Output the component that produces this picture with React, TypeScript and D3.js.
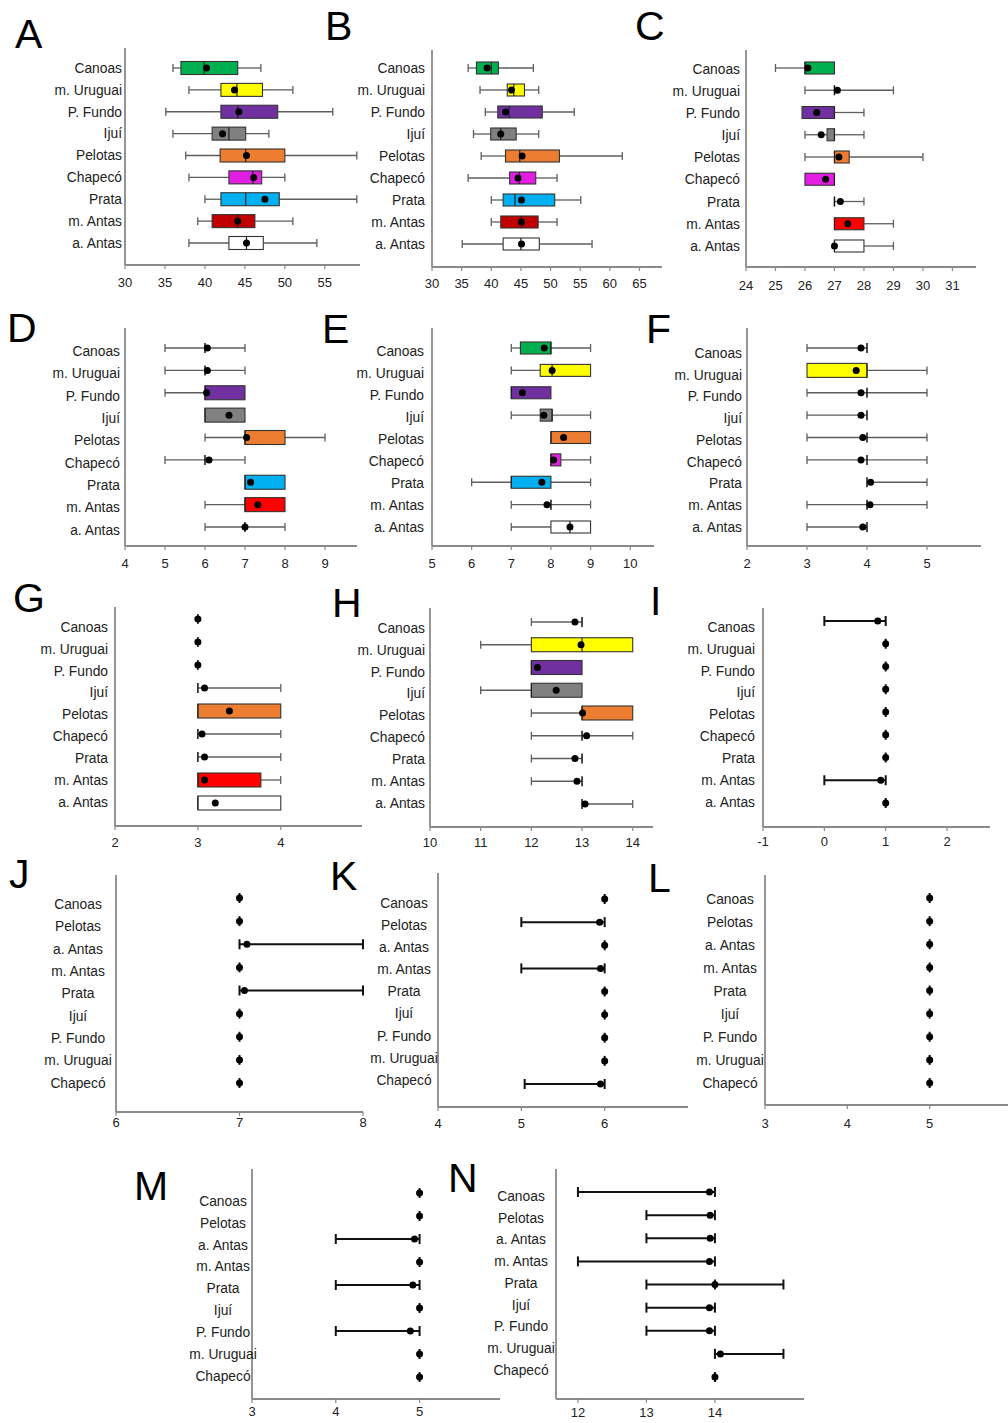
import React from 'react';
import * as d3 from 'd3';

// site order used in panels A-I and J-N
const sitesAI = ['Canoas', 'm. Uruguai', 'P. Fundo', 'Ijuí', 'Pelotas', 'Chapecó', 'Prata', 'm. Antas', 'a. Antas'];
const sitesJN = ['Canoas', 'Pelotas', 'a. Antas', 'm. Antas', 'Prata', 'Ijuí', 'P. Fundo', 'm. Uruguai', 'Chapecó'];

// [min, q1, median, q3, max, mean] per site
const statsA = [
  [36, 37, 39.9, 44.1, 47, 40.2], [38, 42, 44, 47.2, 51, 43.7], [35.1, 42, 44.1, 49.1, 56, 44.25],
  [36, 40.9, 43, 45.1, 48, 42.2], [37.6, 41.9, 45.1, 50, 59, 45.2], [38, 43, 46, 47.1, 50, 46.1],
  [40, 42, 45.1, 49.3, 59, 47.5], [39.1, 40.9, 44.1, 46.25, 51, 44.1], [38, 43, 45.2, 47.3, 54, 45.2],
];
const statsB = [
  [36.1, 37.5, 40, 41.2, 47.1, 39.3], [38.1, 42.7, 43.8, 45.6, 48, 43.4], [39, 41.1, 43, 48.6, 54, 42.4],
  [37, 39.9, 41.6, 44.2, 48, 41.6], [38.3, 42.4, 44.8, 51.5, 62.1, 45.2], [36.1, 43.1, 44.7, 47.5, 51.1, 44.5],
  [40, 42, 44, 50.7, 55.1, 45.1], [40, 41.6, 45.1, 47.9, 51.1, 45.1], [35.1, 42, 45, 48.1, 57, 45.1],
];
const statsC = [
  [25, 26, 26, 27, 27, 26.1], [26, 27, 27, 27, 29, 27.1], [25.9, 25.9, 27, 27, 28, 26.4],
  [26, 26.75, 27, 27, 28, 26.55], [26, 27, 27, 27.5, 30, 27.15], [26, 26, 27, 27, 27, 26.7],
  [27, 27, 27, 27, 28, 27.2], [27, 27, 27, 28, 29, 27.45], [27, 27, 27, 28, 29, 27.0],
];
const statsD = [
  [5, 6, 6, 6, 7, 6.06], [5, 6, 6, 6, 7, 6.06], [5, 6, 6, 7, 7, 6.04],
  [6, 6, 6, 7, 7, 6.6], [6, 7, 7, 8, 9, 7.04], [5, 6, 6, 6, 7, 6.1],
  [7, 7, 7, 8, 8, 7.14], [6, 7, 7, 8, 8, 7.32], [6, 7, 7, 7, 8, 7.0],
];
const statsE = [
  [7, 7.23, 8, 8, 9, 7.83], [7, 7.73, 8.03, 9, 9, 8.03], [7, 7, 7, 8, 8, 7.28],
  [7, 7.73, 8.03, 8.03, 9, 7.82], [8, 8, 8, 9, 9, 8.32], [8, 8, 8, 8.25, 9, 8.07],
  [6, 7, 7, 8, 9, 7.77], [7, 8, 8, 8, 9, 7.9], [7, 8, 8.48, 9, 9, 8.48],
];
const statsF = [
  [3, 4, 4, 4, 4, 3.9], [3, 3, 4, 4, 5, 3.82], [3, 4, 4, 4, 5, 3.9],
  [3, 4, 4, 4, 4, 3.9], [3, 4, 4, 4, 5, 3.93], [3, 4, 4, 4, 5, 3.9],
  [4, 4, 4, 4, 5, 4.06], [3, 4, 4, 4, 5, 4.05], [3, 4, 4, 4, 4, 3.93],
];
const statsG = [
  [3, 3, 3, 3, 3, 3], [3, 3, 3, 3, 3, 3], [3, 3, 3, 3, 3, 3],
  [3, 3, 3, 3, 4, 3.08], [3, 3, 3, 4, 4, 3.38], [3, 3, 3, 3, 4, 3.05],
  [3, 3, 3, 3, 4, 3.08], [3, 3, 3, 3.76, 4, 3.08], [3, 3, 3, 4, 4, 3.21],
];
const statsH = [
  [12, 13, 13, 13, 13, 12.86], [11, 12, 13, 14, 14, 12.98], [12, 12, 12, 13, 13, 12.12],
  [11, 12, 12, 13, 13, 12.49], [12, 13, 13, 14, 14, 13.01], [12, 13, 13, 13, 14, 13.09],
  [12, 13, 13, 13, 13, 12.86], [12, 13, 13, 13, 13, 12.9], [13, 13, 13, 13, 14, 13.06],
];
const statsI = [
  [0, 1, 1, 1, 1, 0.87], [1, 1, 1, 1, 1, 1], [1, 1, 1, 1, 1, 1],
  [1, 1, 1, 1, 1, 1], [1, 1, 1, 1, 1, 1], [1, 1, 1, 1, 1, 1],
  [1, 1, 1, 1, 1, 1], [0, 1, 1, 1, 1, 0.92], [1, 1, 1, 1, 1, 1],
];
const statsJ = [
  [7, 7, 7, 7, 7, 7], [7, 7, 7, 7, 7, 7], [7, 7, 7, 7, 8, 7.06],
  [7, 7, 7, 7, 7, 7], [7, 7, 7, 7, 8, 7.04], [7, 7, 7, 7, 7, 7],
  [7, 7, 7, 7, 7, 7], [7, 7, 7, 7, 7, 7], [7, 7, 7, 7, 7, 7],
];
const statsK = [
  [6, 6, 6, 6, 6, 6], [5, 6, 6, 6, 6, 5.94], [6, 6, 6, 6, 6, 6],
  [5, 6, 6, 6, 6, 5.95], [6, 6, 6, 6, 6, 6], [6, 6, 6, 6, 6, 6],
  [6, 6, 6, 6, 6, 6], [6, 6, 6, 6, 6, 6], [5.04, 6, 6, 6, 6, 5.95],
];
const statsL = [
  [5, 5, 5, 5, 5, 5], [5, 5, 5, 5, 5, 5], [5, 5, 5, 5, 5, 5],
  [5, 5, 5, 5, 5, 5], [5, 5, 5, 5, 5, 5], [5, 5, 5, 5, 5, 5],
  [5, 5, 5, 5, 5, 5], [5, 5, 5, 5, 5, 5], [5, 5, 5, 5, 5, 5],
];
const statsM = [
  [5, 5, 5, 5, 5, 5], [5, 5, 5, 5, 5, 5], [4, 5, 5, 5, 5, 4.94],
  [5, 5, 5, 5, 5, 5], [4, 5, 5, 5, 5, 4.92], [5, 5, 5, 5, 5, 5],
  [4, 5, 5, 5, 5, 4.89], [5, 5, 5, 5, 5, 5], [5, 5, 5, 5, 5, 5],
];
const statsN = [
  [12, 14, 14, 14, 14, 13.92], [13, 14, 14, 14, 14, 13.93], [13, 14, 14, 14, 14, 13.93],
  [12, 14, 14, 14, 14, 13.92], [13, 14, 14, 14, 15, 14], [13, 14, 14, 14, 14, 13.92],
  [13, 14, 14, 14, 14, 13.92], [14, 14, 14, 14, 15, 14.08], [14, 14, 14, 14, 14, 14],
];

const ticksA = [30, 35, 40, 45, 50, 55];
const ticksB = [30, 35, 40, 45, 50, 55, 60, 65];
const ticksC = [24, 25, 26, 27, 28, 29, 30, 31];
const ticksD = [4, 5, 6, 7, 8, 9];
const ticksE = [5, 6, 7, 8, 9, 10];
const ticksF = [2, 3, 4, 5];
const ticksG = [2, 3, 4];
const ticksH = [10, 11, 12, 13, 14];
const ticksI = [-1, 0, 1, 2];
const ticksJ = [6, 7, 8];
const ticksK = [4, 5, 6];
const ticksL = [3, 4, 5];
const ticksM = [3, 4, 5];
const ticksN = [12, 13, 14];

const siteColor = {
  'Canoas': '#00b050', 'm. Uruguai': '#ffff00', 'P. Fundo': '#7030a0', 'Ijuí': '#808080',
  'Pelotas': '#ed7d31', 'Chapecó': '#e31ee3', 'Prata': '#00b0f0', 'm. Antas': '#ff0000', 'a. Antas': '#ffffff',
};

// layout of each panel on the page
const panels = [
  { id: 'A', sites: sitesAI, stats: statsA, ticks: ticksA, domain: [30, 59.4], xr: [125, 360], ya: [48, 265], rows: [68, 243], lab: [68, 243], lx: 122, anchor: 'end', tdy: 17, boxH: 13, letter: [15, 48], red: '#c00000' },
  { id: 'B', sites: sitesAI, stats: statsB, ticks: ticksB, domain: [30, 68.8], xr: [432, 662], ya: [50, 267], rows: [68, 244], lab: [68, 244], lx: 425, anchor: 'end', tdy: 16, boxH: 12, letter: [325, 40], red: '#c00000' },
  { id: 'C', sites: sitesAI, stats: statsC, ticks: ticksC, domain: [24, 31.8], xr: [746, 976], ya: [50, 267], rows: [68, 246], lab: [69, 246], lx: 740, anchor: 'end', tdy: 18, boxH: 12, letter: [635, 40] },
  { id: 'D', sites: sitesAI, stats: statsD, ticks: ticksD, domain: [4, 9.8], xr: [125, 357], ya: [328, 546], rows: [348, 527], lab: [351, 530], lx: 120, anchor: 'end', tdy: 17, boxH: 14, letter: [7, 342] },
  { id: 'E', sites: sitesAI, stats: statsE, ticks: ticksE, domain: [5, 10.6], xr: [432, 654], ya: [328, 546], rows: [348, 527], lab: [351, 527], lx: 424, anchor: 'end', tdy: 17, boxH: 12, letter: [322, 343] },
  { id: 'F', sites: sitesAI, stats: statsF, ticks: ticksF, domain: [2, 5.9], xr: [747, 981], ya: [328, 546], rows: [348, 527], lab: [353, 527], lx: 742, anchor: 'end', tdy: 17, boxH: 14, letter: [646, 343] },
  { id: 'G', sites: sitesAI, stats: statsG, ticks: ticksG, domain: [2, 4.98], xr: [115, 362], ya: [607, 826], rows: [619, 803], lab: [627, 802], lx: 108, anchor: 'end', tdy: 16, boxH: 14, letter: [13, 612] },
  { id: 'H', sites: sitesAI, stats: statsH, ticks: ticksH, domain: [10, 14.4], xr: [430, 653], ya: [608, 827], rows: [622, 804], lab: [628, 803], lx: 425, anchor: 'end', tdy: 15, boxH: 14, letter: [332, 617] },
  { id: 'I', sites: sitesAI, stats: statsI, ticks: ticksI, domain: [-1, 2.7], xr: [763, 990], ya: [608, 827], rows: [621, 803], lab: [627, 802], lx: 755, anchor: 'end', tdy: 14, boxH: 12, letter: [650, 615], heavy: true },
  { id: 'J', sites: sitesJN, stats: statsJ, ticks: ticksJ, domain: [6, 8], xr: [116, 363], ya: [875, 1112], rows: [898, 1083], lab: [904, 1083], lx: 78, anchor: 'middle', tdy: 10, boxH: 12, letter: [9, 888], heavy: true },
  { id: 'K', sites: sitesJN, stats: statsK, ticks: ticksK, domain: [4, 7], xr: [438, 688], ya: [873, 1107], rows: [899, 1084], lab: [903, 1080], lx: 404, anchor: 'middle', tdy: 16, boxH: 12, letter: [330, 890], heavy: true },
  { id: 'L', sites: sitesJN, stats: statsL, ticks: ticksL, domain: [3, 6], xr: [765, 1012], ya: [875, 1105], rows: [898, 1083], lab: [899, 1083], lx: 730, anchor: 'middle', tdy: 18, boxH: 12, letter: [648, 892], heavy: true },
  { id: 'M', sites: sitesJN, stats: statsM, ticks: ticksM, domain: [3, 5.96], xr: [252, 500], ya: [1169, 1399], rows: [1193, 1377], lab: [1201, 1376], lx: 223, anchor: 'middle', tdy: 12.5, boxH: 12, letter: [134, 1200], heavy: true },
  { id: 'N', sites: sitesJN, stats: statsN, ticks: ticksN, domain: [11.68, 15.3], xr: [556, 804], ya: [1169, 1399], rows: [1192, 1377], lab: [1196, 1370], lx: 521, anchor: 'middle', tdy: 13, boxH: 12, letter: [448, 1192], heavy: true },
];

const font = '"Liberation Sans", Arial, sans-serif';

const Panel = ({ p }: any) => {
  const x = d3.scaleLinear().domain(p.domain).range(p.xr);
  const y = d3.scalePoint().domain(p.sites).range(p.rows);
  const yl = d3.scalePoint().domain(p.sites).range(p.lab);
  const wc = p.heavy ? '#111' : '#5e5e5e';
  const sw = p.heavy ? 2 : 1.3;
  const cap = p.heavy ? 5 : 4;
  const [x0, x1] = p.xr;
  const [yTop, yBot] = p.ya;

  return (
    <g>
      <text x={p.letter[0]} y={p.letter[1]} fontSize={41} fontFamily={font}>{p.id}</text>
      {/* axes */}
      <line x1={x0} x2={x0} y1={yTop} y2={yBot} stroke="#8a8a8a" strokeWidth={1.8} />
      <line x1={x0} x2={x1} y1={yBot} y2={yBot} stroke="#8a8a8a" strokeWidth={1.8} />
      {p.ticks.map((t: number) => (
        <g key={t}>
          <line x1={x(t)} x2={x(t)} y1={yBot} y2={yBot + 4} stroke="#8a8a8a" strokeWidth={1.2} />
          <text x={x(t)} y={yBot + p.tdy} dy="0.35em" textAnchor="middle" fontSize={13} fontFamily={font} fill="#222">{t}</text>
        </g>
      ))}
      {p.sites.map((s: string) => (
        <text key={s} x={p.lx} y={yl(s)} dy="0.35em" textAnchor={p.anchor} fontSize={13.8} fontFamily={font} fill="#222">{s}</text>
      ))}
      {p.sites.map((s: string, i: number) => {
        const [mn, q1, md, q3, mx, mean] = p.stats[i];
        const cy = y(s) as number;
        const hasBox = q3 > q1;
        const fill = s === 'm. Antas' && p.red ? p.red : siteColor[s];
        const h = p.boxH;
        return (
          <g key={s}>
            {mn < q1 && <line x1={x(mn)} x2={x(q1)} y1={cy} y2={cy} stroke={wc} strokeWidth={sw} />}
            {mx > q3 && <line x1={x(q3)} x2={x(mx)} y1={cy} y2={cy} stroke={wc} strokeWidth={sw} />}
            {mn < q1 && <line x1={x(mn)} x2={x(mn)} y1={cy - cap} y2={cy + cap} stroke={wc} strokeWidth={sw} />}
            {mx > q3 && <line x1={x(mx)} x2={x(mx)} y1={cy - cap} y2={cy + cap} stroke={wc} strokeWidth={sw} />}
            {hasBox && (
              <rect x={x(q1)} y={cy - h / 2} width={x(q3) - x(q1)} height={h} fill={fill} stroke="#333" strokeWidth={1.1} />
            )}
            {hasBox ? (
              <line x1={x(md)} x2={x(md)} y1={cy - h / 2} y2={cy + h / 2} stroke="#222" strokeWidth={1.2} />
            ) : (
              <line x1={x(md)} x2={x(md)} y1={cy - 5} y2={cy + 5} stroke="#111" strokeWidth={p.heavy ? 2 : 1.5} />
            )}
            <circle cx={x(mean)} cy={cy} r={3.5} fill="#000" />
          </g>
        );
      })}
    </g>
  );
};

export default function App() {
  return (
    <svg width={1008} height={1423} style={{ position: 'absolute', left: 0, top: 0, background: '#fff' }}>
      <rect width={1008} height={1423} fill="#fff" />
      {panels.map((p) => (
        <Panel key={p.id} p={p} />
      ))}
    </svg>
  );
}
